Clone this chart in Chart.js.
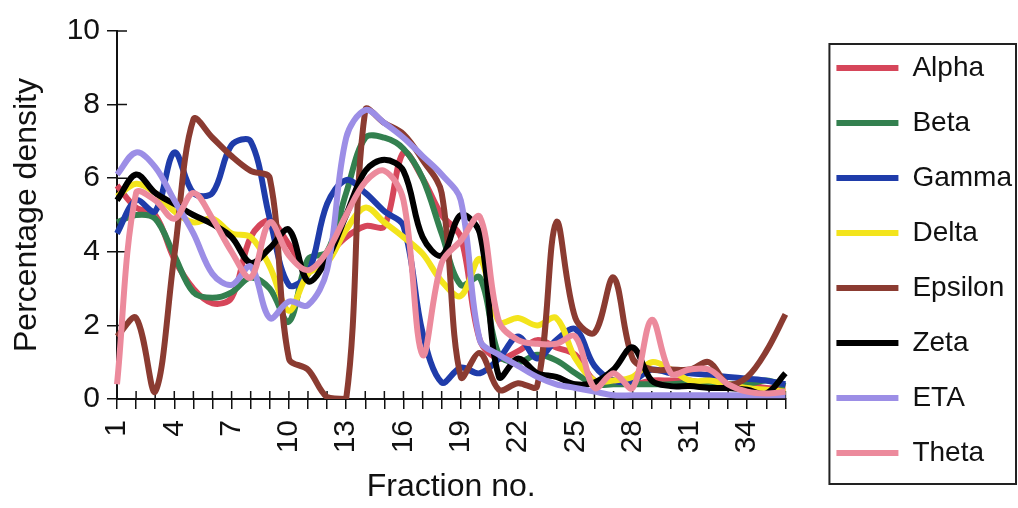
<!DOCTYPE html>
<html>
<head>
<meta charset="utf-8">
<title>Percentage density by fraction</title>
<script src="https://cdn.jsdelivr.net/npm/chart.js@4/dist/chart.umd.min.js"></script>
<style>
  html, body { margin: 0; padding: 0; background: #ffffff; }
  #wrap { width: 1018px; height: 508px; }
</style>
</head>
<body>
<div id="wrap"><canvas id="chart" width="1018" height="508"></canvas></div>
<script>
// Fraction numbers along the x axis
const fractions = ['1','2','3','4','5','6','7','8','9','10','11','12','13','14','15','16','17','18',
                   '19','20','21','22','23','24','25','26','27','28','29','30','31','32','33','34','35','36'];
// Every third fraction carries a printed label
const labelStep = 3;
// Percentage density ticks
const yTicks = [0, 2, 4, 6, 8, 10];

const seriesNames = ['Alpha', 'Beta', 'Gamma', 'Delta', 'Epsilon', 'Zeta', 'ETA', 'Theta'];
const seriesColors = ['#d6465a', '#33804f', '#1f3caa', '#f3e41c', '#8b3b31', '#000000', '#9c8ee6', '#ec8a9c'];

const alpha   = [5.8, 5.2, 5.0, 3.8, 3.0, 2.6, 2.75, 4.4, 4.85, 4.2, 3.5, 3.9, 4.4, 4.7, 4.7, 6.7, 6.0, 5.0,
                 4.4, 1.6, 1.1, 1.3, 1.6, 1.4, 1.2, 0.5, 0.5, 0.4, 0.5, 0.5, 0.5, 0.4, 0.4, 0.4, 0.3, 0.3];
const beta    = [4.8, 5.0, 4.9, 3.9, 2.9, 2.75, 2.9, 3.3, 3.0, 2.1, 3.8, 4.0, 5.6, 7.1, 7.1, 6.8, 6.0, 4.5,
                 3.1, 3.3, 1.2, 1.0, 1.2, 1.05, 0.7, 0.4, 0.4, 0.4, 0.4, 0.4, 0.45, 0.45, 0.4, 0.4, 0.5, 0.35];
const gamma   = [4.5, 5.4, 5.1, 6.7, 5.6, 5.6, 6.9, 7.0, 4.9, 3.1, 3.4, 5.3, 5.95, 5.6, 5.1, 4.7, 1.8, 0.45,
                 0.85, 0.7, 1.1, 1.7, 1.1, 1.6, 1.9, 0.9, 0.5, 0.5, 0.8, 0.7, 0.7, 0.65, 0.6, 0.55, 0.5, 0.4];
const delta   = [5.5, 5.85, 5.6, 5.1, 4.8, 4.9, 4.5, 4.4, 3.6, 2.4, 3.4, 3.7, 4.6, 5.2, 4.8, 4.4, 3.95, 3.2,
                 2.8, 3.8, 2.1, 2.2, 2.0, 2.2, 1.1, 0.5, 0.5, 0.6, 1.0, 0.8, 0.5, 0.5, 0.4, 0.3, 0.25, 0.2];
const epsilon = [1.7, 2.2, 0.2, 3.9, 7.6, 7.1, 6.6, 6.2, 6.0, 1.1, 0.8, 0.05, 0.0, 7.85, 7.5, 7.2, 6.5, 5.6,
                 0.6, 1.25, 0.25, 0.43, 0.35, 4.8, 2.2, 1.8, 3.3, 1.1, 0.8, 0.8, 0.8, 1.0, 0.4, 0.6, 1.3, 2.3];
const zeta    = [5.4, 6.1, 5.6, 5.3, 5.0, 4.75, 4.4, 3.7, 4.1, 4.6, 3.2, 3.8, 5.0, 6.2, 6.5, 6.2, 4.4, 3.9,
                 5.0, 4.5, 0.6, 1.1, 0.7, 0.6, 0.4, 0.45, 0.8, 1.4, 0.5, 0.35, 0.35, 0.3, 0.3, 0.25, 0.15, 0.7];
const eta     = [6.1, 6.7, 6.3, 5.4, 4.5, 3.4, 3.1, 3.6, 2.2, 2.65, 2.55, 3.5, 7.1, 7.85, 7.5, 7.1, 6.6, 6.1,
                 5.4, 1.6, 1.2, 0.9, 0.6, 0.4, 0.3, 0.2, 0.1, 0.1, 0.1, 0.1, 0.1, 0.1, 0.1, 0.1, 0.1, 0.1];
const theta   = [0.4, 5.6, 5.4, 4.9, 5.6, 4.9, 4.0, 3.3, 4.8, 3.9, 3.5, 4.0, 5.0, 5.9, 6.2, 5.4, 1.2, 3.7,
                 4.3, 4.95, 2.1, 1.6, 1.5, 1.5, 1.7, 0.3, 0.7, 0.3, 2.15, 0.7, 0.8, 0.8, 0.4, 0.2, 0.15, 0.2];

const seriesValues = [alpha, beta, gamma, delta, epsilon, zeta, eta, theta];

const FONT = '"Liberation Sans", Arial, Helvetica, sans-serif';
const INK = '#111111';

// Tick marks that cross the axis lines (the inner half of each tick)
const crossTicks = {
  id: 'crossTicks',
  beforeDatasetsDraw(chart) {
    const { ctx, scales: { x, y } } = chart;
    ctx.save();
    ctx.strokeStyle = INK;
    ctx.lineWidth = 1.5;
    ctx.beginPath();
    x.ticks.forEach((t, i) => {
      const px = x.getPixelForTick(i);
      ctx.moveTo(px, y.bottom);
      ctx.lineTo(px, y.bottom - 8);
    });
    y.ticks.forEach((t, i) => {
      const py = y.getPixelForTick(i);
      ctx.moveTo(x.left, py);
      ctx.lineTo(x.left + 10, py);
    });
    ctx.stroke();
    ctx.restore();
  }
};

// Move the legend column a little away from the plot and frame it
const legendFrame = {
  id: 'legendFrame',
  afterLayout(chart) {
    chart.legend.left += 24;
    chart.legend.right += 24;
    chart.legend.top -= 9;
    chart.legend.bottom -= 9;
  },
  afterDraw(chart) {
    const lg = chart.legend;
    const boxes = lg.legendHitBoxes;
    if (!boxes || !boxes.length) return;
    const first = boxes[0];
    const last = boxes[boxes.length - 1];
    const { ctx } = chart;
    ctx.save();
    ctx.strokeStyle = '#222222';
    ctx.lineWidth = 2;
    const left = first.left - 7;
    const top = first.top - 10;
    const right = chart.width - 2;
    const bottom = last.top + last.height + 17;
    ctx.strokeRect(left, top, right - left, bottom - top);
    ctx.restore();
  }
};

const datasets = seriesNames.map((name, i) => ({
  label: name,
  data: seriesValues[i],
  borderColor: seriesColors[i],
  backgroundColor: seriesColors[i],
  borderWidth: 6,
  pointRadius: 0,
  pointHoverRadius: 0,
  tension: 0.35,
  fill: false,
  // later series sit on top of earlier ones
  order: seriesNames.length - 1 - i
}));

new Chart(document.getElementById('chart'), {
  type: 'line',
  data: { labels: fractions, datasets },
  options: {
    responsive: false,
    animation: false,
    devicePixelRatio: 1,
    layout: { padding: { left: 8, top: 31, right: 20, bottom: 0 } },
    plugins: {
      tooltip: { enabled: false },
      legend: {
        position: 'right',
        align: 'center',
        labels: {
          font: { family: FONT, size: 28 },
          color: INK,
          boxWidth: 62,
          boxHeight: 6,
          padding: 27,
          sort: (a, b) => a.datasetIndex - b.datasetIndex,
          generateLabels(chart) {
            return Chart.defaults.plugins.legend.labels.generateLabels(chart).map(item => ({
              ...item,
              fillStyle: item.strokeStyle,
              lineWidth: 0
            }));
          }
        }
      }
    },
    scales: {
      x: {
        type: 'category',
        offset: false,
        afterFit(scale) { scale.height = 109; },
        grid: { display: true, drawOnChartArea: false, drawTicks: true, tickLength: 10, color: INK, lineWidth: 1.5 },
        border: { display: true, color: INK, width: 2 },
        ticks: {
          autoSkip: false,
          maxRotation: 90,
          minRotation: 90,
          padding: 11,
          color: INK,
          font: { family: FONT, size: 30 },
          callback(value, index) { return index % labelStep === 0 ? fractions[index] : ''; }
        },
        title: {
          display: true,
          text: 'Fraction no.',
          color: INK,
          font: { family: FONT, size: 32 },
          padding: { top: 0, bottom: 2 }
        }
      },
      y: {
        min: yTicks[0],
        max: yTicks[yTicks.length - 1],
        afterFit(scale) { scale.width = 109; },
        afterBuildTicks(scale) { scale.ticks = yTicks.map(v => ({ value: v })); },
        grid: { display: true, drawOnChartArea: false, drawTicks: true, tickLength: 10, color: INK, lineWidth: 1.5 },
        border: { display: true, color: INK, width: 2 },
        ticks: {
          padding: 7,
          color: INK,
          font: { family: FONT, size: 30 }
        },
        title: {
          display: true,
          text: 'Percentage density',
          color: INK,
          font: { family: FONT, size: 32 },
          padding: { top: 0, bottom: 0 }
        }
      }
    }
  },
  plugins: [crossTicks, legendFrame]
});
</script>
</body>
</html>
